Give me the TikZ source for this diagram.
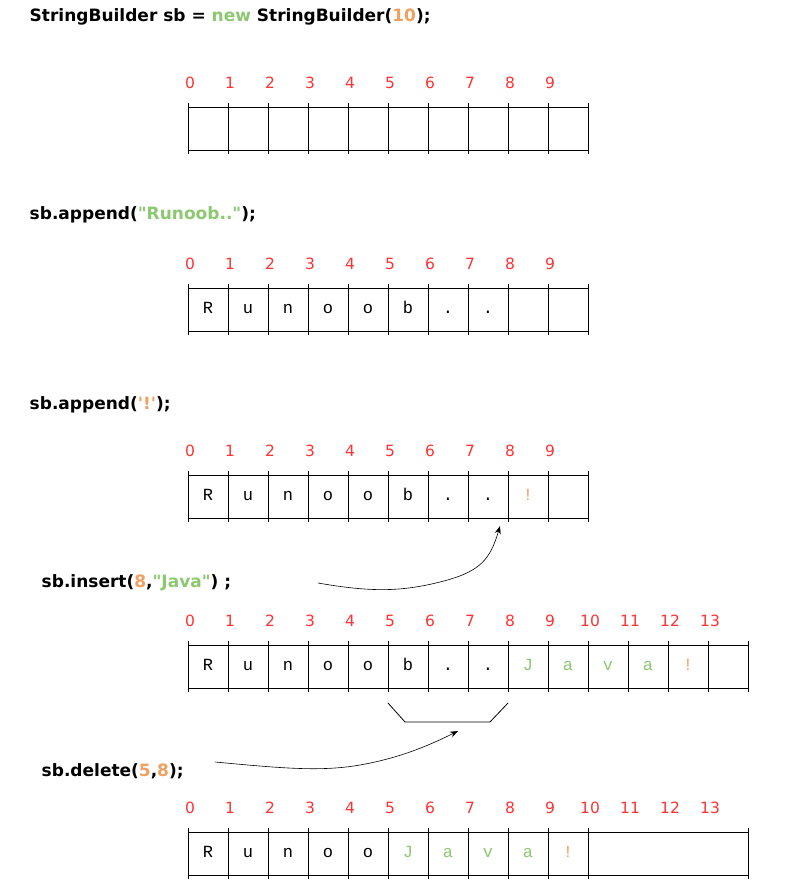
\documentclass[tikz,border=0pt]{standalone}
\usepackage{fontspec}
\setmainfont{DejaVu Sans}[Ligatures=TeXOff]
\newfontfamily\cellfont{Liberation Mono}
\usetikzlibrary{arrows.meta}
\definecolor{idx}{HTML}{FF3333}
\definecolor{grn}{HTML}{8CC870}
\definecolor{org}{HTML}{F0A060}
\newcommand{\dq}{\symbol{34}}
\newcommand{\sq}{\symbol{39}}
\tikzset{code/.style={anchor=west,font=\bfseries\fontsize{17}{19}\selectfont},
 ix/.style={text=idx,font=\fontsize{15.5}{17}\selectfont},
 ch/.style={font=\cellfont\fontsize{17}{19}\selectfont,text height=11pt,text depth=3pt},
 arr/.style={-{Stealth[length=8pt,width=6pt]},line width=0.6pt}}
\begin{document}
\begin{tikzpicture}[x=1pt,y=-1pt,line width=0.8pt]
\useasboundingbox (0,0) rectangle (804,888);
\newcommand{\mygrid}[4]{%
 \draw (188,#1) -- ({188+40*#2},#1);
 \draw (188,{#1+43}) -- ({188+40*#2},{#1+43});
 \foreach \i in {0,...,#3} \draw ({188+40*\i},{#1-4}) -- ({188+40*\i},{#1+47});
 \draw ({188+40*#2},{#1-4}) -- ({188+40*#2},{#1+47});
 \foreach \i in {0,...,#4} \node[ix] at ({190+40*\i},{#1-24}) {\i};
}
\node[code] (t0) at (26,17) {StringBuilder sb = \textcolor{grn}{new} StringBuilder(\textcolor{org}{10});};
\mygrid{107}{10}{10}{9}
\node[code] (t1) at (26,215) {sb.append(\textcolor{grn}{\dq Runoob..\dq});};
\mygrid{288}{10}{10}{9}
\foreach \c [count=\i from 0] in {R,u,n,o,o,b,.,.} \node[ch] at ({208+40*\i},309) {\c};
\node[code] (t2) at (26,405) {sb.append(\textcolor{org}{\sq!\sq});};
\mygrid{475}{10}{10}{9}
\foreach \c [count=\i from 0] in {R,u,n,o,o,b,.,.} \node[ch] at ({208+40*\i},496) {\c};
\node[ch,text=org] at (528,496) {!};
\node[code] (t3) at (38,583) {sb.insert(\textcolor{org}{8},\textcolor{grn}{\dq Java\dq}) ;};
\mygrid{645}{14}{14}{13}
\foreach \c [count=\i from 0] in {R,u,n,o,o,b,.,.} \node[ch] at ({208+40*\i},666) {\c};
\foreach \c [count=\i from 8] in {J,a,v,a} \node[ch,text=grn] at ({208+40*\i},666) {\c};
\node[ch,text=org] at (688,666) {!};
\node[code] (t4) at (38,771) {sb.delete(\textcolor{org}{5},\textcolor{org}{8});};
\mygrid{832}{14}{10}{13}
\foreach \c [count=\i from 0] in {R,u,n,o,o} \node[ch] at ({208+40*\i},853) {\c};
\foreach \c [count=\i from 5] in {J,a,v,a} \node[ch,text=grn] at ({208+40*\i},853) {\c};
\node[ch,text=org] at (568,853) {!};
\coordinate (a0) at (318,583); \coordinate (a1) at (500,526);
\draw[arr] (a0) .. controls (370,592) and (400,592) .. (440,582) .. controls (480,572) and (490,560) .. (a1);
\draw (388,703) -- (405,722) -- (490,722) -- (508,703);
\coordinate (b0) at (215,762); \coordinate (b1) at (458,731);
\draw[arr] (b0) .. controls (280,768) and (320,772) .. (360,765) .. controls (400,758) and (430,745) .. (b1);
\end{tikzpicture}
\end{document}
